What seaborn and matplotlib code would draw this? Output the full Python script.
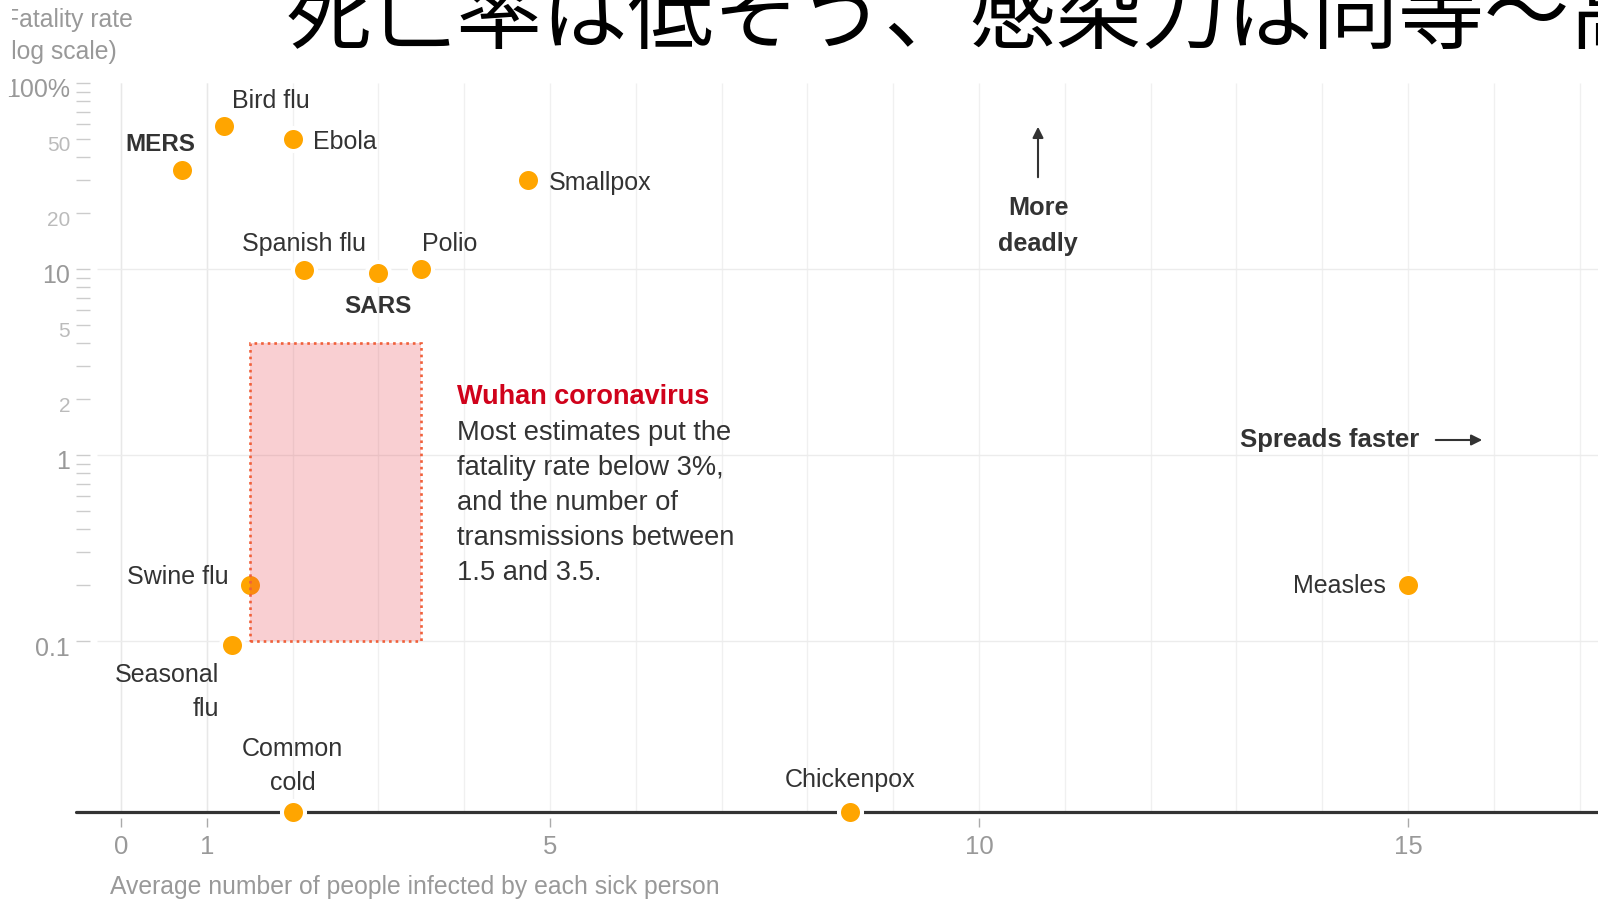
import numpy as np
import seaborn as sns
import pandas as pd
from matplotlib import pyplot as plt
from matplotlib import transforms as mtransforms
from matplotlib.patches import Rectangle

# ---- data ----
diseases = ['MERS', 'Bird flu', 'Ebola', 'Smallpox', 'Spanish flu', 'SARS', 'Polio',
            'Swine flu', 'Seasonal flu', 'Measles', 'Common cold', 'Chickenpox']
spread = [0.71, 1.2, 2.0, 4.74, 2.13, 3.0, 3.5, 1.5, 1.29, 15.0, 2.0, 8.5]
fatality = [34, 59, 50, 30, 9.9, 9.5, 10, 0.2, 0.095, 0.2, 0, 0]   # 0 -> drawn on the baseline
labels = ['MERS', 'Bird flu', 'Ebola', 'Smallpox', 'Spanish flu', 'SARS', 'Polio',
          'Swine flu', 'Seasonal\nflu', 'Measles', 'Common\ncold', 'Chickenpox']
bold_labels = ['MERS', 'SARS']

wuhan_spread = [1.5, 3.5]
wuhan_fatality = [0.1, 4]

x_ticks = [0, 1, 5, 10, 15]
y_major = [0.1, 1, 10, 100]
y_major_labels = ['0.1', '1', '10', '100%']
y_minor = [k * 10.0 ** e for e in (-1, 0, 1) for k in range(2, 10)]
y_minor_named = {20: '2', 50: '5', 200: '20', 500: '50'}   # keyed by value * 10

title = '死亡率は低そう、感染力は同等〜高い'
wuhan_title = 'Wuhan coronavirus'
wuhan_body = ['Most estimates put the', 'fatality rate below 3%,', 'and the number of',
              'transmissions between', '1.5 and 3.5.']

# ---- layout (pixels, origin top-left) ----
W, H = 1598, 901
X0, XU = 121, 85.8     # pixel of x=0 and pixels per unit
Y10, DEC = 269, 186    # pixel of 10 % and pixels per decade


def to_x(px):
    return (px - X0) / XU


def to_y(py):
    return 10 ** (1 - (py - Y10) / DEC)


def ftext(px, py, s, **kw):
    return fig.text(px / W, 1 - py / H, s, **kw)


# label offsets in pixels (dx, dy up) and alignment
offsets = {
    'MERS': (-22, 26, 'center'), 'Bird flu': (8, 25, 'left'), 'Ebola': (20, -3, 'left'),
    'Smallpox': (21, -3, 'left'), 'Spanish flu': (0, 26, 'center'), 'SARS': (0, -33, 'center'),
    'Polio': (1, 25, 'left'), 'Swine flu': (-21, 8, 'right'), 'Seasonal flu': (-13, -47, 'right'),
    'Measles': (-22, -1, 'right'), 'Common cold': (0, 46, 'center'), 'Chickenpox': (0, 32, 'center'),
}

dark = '#333333'
grid = '#f0f0f0'
baseline = to_y(812)

sns.set_theme(style='white')
plt.rcParams['font.family'] = ['Liberation Sans', 'DejaVu Sans']

fig = plt.figure(figsize=(W / 100, H / 100), dpi=100)
ax = fig.add_axes([0, 0, 1, 1])
ax.set_yscale('log')
ax.set_xlim(to_x(0), to_x(W))
ax.set_ylim(to_y(H), to_y(0))

# grid
ax.vlines(np.arange(0, 18), baseline, 100, color=grid, lw=1, zorder=0)
ax.vlines([0, 1], baseline, 100, color='#e8e8e8', lw=1, zorder=0)
ax.hlines(y_major[:3], to_x(97), to_x(W), color='#ececec', lw=1, zorder=0)
ax.axhline(baseline, xmin=76 / W, color=dark, lw=2.3, zorder=3)

# axes / ticks
for side in ['top', 'right', 'bottom', 'left']:
    ax.spines[side].set_visible(False)
ax.spines['left'].set_position(('data', to_x(90)))
ax.spines['bottom'].set_position(('data', to_y(818)))

ax.set_xticks(x_ticks, labels=[str(t) for t in x_ticks], fontsize=18.5, color='#999999')
ax.tick_params(axis='x', bottom=True, direction='out', length=6.5, width=1,
               color='#aaaaaa', pad=6)
ax.set_yticks(y_major, labels=y_major_labels, fontsize=18, color='#999999')
ax.set_yticks(y_minor, labels=[y_minor_named.get(int(round(v * 10)), '') for v in y_minor],
              minor=True, fontsize=15, color='#bbbbbb')
ax.tick_params(axis='y', which='both', left=True, direction='out', length=10, width=1,
               color='#cccccc', pad=4.3)
shift_down = mtransforms.ScaledTranslation(0, -5 / 100, fig.dpi_scale_trans)
for lab in ax.get_yticklabels(which='both'):
    lab.set_transform(lab.get_transform() + shift_down)

# points
df = pd.DataFrame({'disease': diseases, 'spread': spread, 'fatality': fatality})
df['y'] = df['fatality'].where(df['fatality'] > 0, baseline)
sns.scatterplot(data=df, x='spread', y='y', ax=ax, s=275, color='#ffa500',
                edgecolor='white', linewidth=2.9, zorder=5, legend=False)
ax.set_xlabel('')
ax.set_ylabel('')

for name, lab, x, y in zip(diseases, labels, df['spread'], df['y']):
    dx, dy, ha = offsets[name]
    ax.annotate(lab, (x, y), xytext=(dx, dy), textcoords='offset pixels', ha=ha, va='center',
                fontsize=17.5 if name in bold_labels else 18, color=dark,
                fontweight='bold' if name in bold_labels else 'normal',
                linespacing=1.5, multialignment=ha, zorder=6)

# Wuhan estimate box
box_w = wuhan_spread[1] - wuhan_spread[0]
box_h = wuhan_fatality[1] - wuhan_fatality[0]
ax.add_patch(Rectangle((wuhan_spread[0], wuhan_fatality[0]), box_w, box_h,
                       facecolor=(0.9, 0.2, 0.25, 0.23), edgecolor='none', zorder=7))
ax.add_patch(Rectangle((wuhan_spread[0], wuhan_fatality[0]), box_w, box_h, fill=False,
                       edgecolor='#f0603a', lw=1.9, linestyle=(0, (1, 1.5)), zorder=8))

ftext(457, 397, wuhan_title, fontsize=19.5, fontweight='bold', color='#d0021b', va='center')
for i, line in enumerate(wuhan_body):
    ftext(457, 433 + 35 * i, line, fontsize=19.6, color=dark, va='center')

# direction hints
ftext(1038, 226, 'More\ndeadly', fontsize=18.2, fontweight='bold', color=dark,
      ha='center', va='center', linespacing=1.6)
ax.annotate('', xy=(to_x(1038), to_y(124)), xytext=(to_x(1038), to_y(180)),
            arrowprops=dict(arrowstyle='-|>', color=dark, lw=1.5, mutation_scale=16))
ftext(1240, 440, 'Spreads faster', fontsize=18.5, fontweight='bold', color=dark, va='center')
ax.annotate('', xy=(to_x(1485), to_y(440)), xytext=(to_x(1433), to_y(440)),
            arrowprops=dict(arrowstyle='-|>', color=dark, lw=1.5, mutation_scale=16))

# axis titles and headline
ftext(133, 20, 'Fatality rate', fontsize=17.8, color='#999999', va='center', ha='right')
ftext(117, 52, '(log scale)', fontsize=17.8, color='#999999', va='center', ha='right')
ftext(110, 887, 'Average number of people infected by each sick person',
      fontsize=17.8, color='#999999', va='center')
ftext(286, 42, title, fontsize=61.7, family=['Noto Sans CJK JP', 'DejaVu Sans'],
      color='black', va='baseline')

# the source screenshot is cropped over the top-left corner
fig.add_artist(Rectangle((0, 1 - 96 / H), 12 / W, 96 / H, transform=fig.transFigure,
                         facecolor='white', edgecolor='none', zorder=20))

fig.savefig('out.png', dpi=100)
